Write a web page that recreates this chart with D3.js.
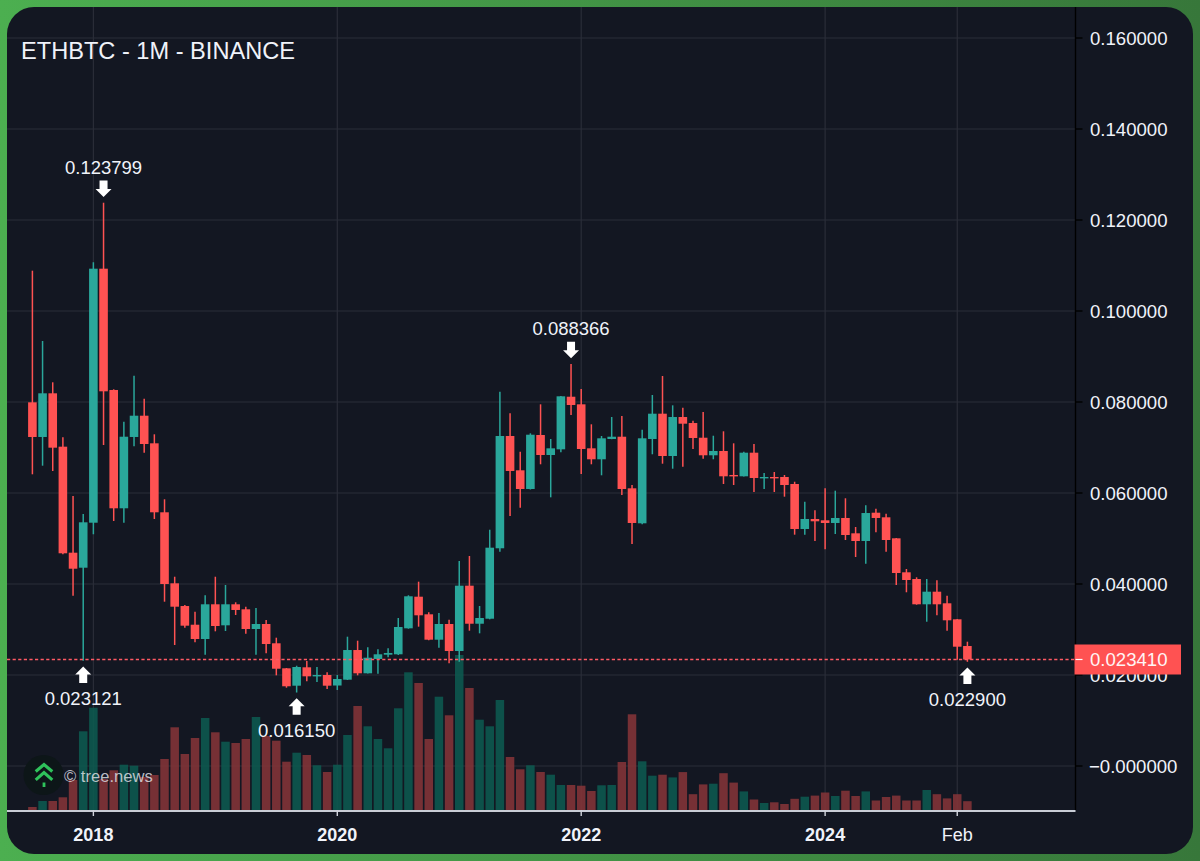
<!DOCTYPE html>
<html><head><meta charset="utf-8">
<style>html,body{margin:0;padding:0;background:#4a9a4e}svg{display:block}text{font-family:"Liberation Sans",Arial,sans-serif}</style>
<script src="https://cdn.jsdelivr.net/npm/d3@7"></script></head><body><svg id="c" width="1200" height="861"></svg>
<script>
const title="ETHBTC - 1M - BINANCE";
const opens=[.07993,.07231,.08191,.07018,.04688,.04358,.05347,.10930,.08264,.05664,.07231,.07699,.07092,.05576,.04015,.03516,.03105,.02791,.03554,.03092,.03554,.03444,.03011,.03121,.02697,.02147,.01765,.02169,.01971,.02000,.01769,.01897,.02549,.02037,.02352,.02446,.02455,.03026,.03721,.03334,.02776,.03121,.02527,.03963,.03127,.03237,.04785,.07253,.06499,.06088,.07275,.06835,.06960,.08116,.07949,.06982,.06741,.07187,.07237,.06103,.05334,.07187,.07743,.06813,.07670,.07538,.07215,.06829,.06923,.06396,.06367,.06886,.06330,.06352,.06352,.06198,.05209,.05429,.05400,.05341,.05451,.05114,.04945,.05567,.05466,.05004,.04257,.04110,.03554,.03831,.03576,.03224,.02637];
const closes=[.07231,.08191,.06996,.04675,.04336,.05356,.10930,.08235,.05664,.07237,.07699,.07077,.05576,.04000,.03501,.03084,.02791,.03554,.03077,.03554,.03429,.03011,.03121,.02681,.02138,.01752,.02176,.01971,.02000,.01765,.01912,.02549,.02037,.02380,.02455,.02484,.03055,.03730,.03312,.02776,.03121,.02527,.03963,.03127,.03253,.04798,.07253,.06484,.06088,.07281,.06835,.06982,.08125,.07934,.06967,.06741,.07202,.07237,.06088,.05341,.07202,.07743,.06813,.07670,.07523,.07209,.06829,.06923,.06367,.06367,.06886,.06330,.06352,.06330,.06176,.05209,.05429,.05378,.05341,.05451,.05077,.04945,.05560,.05451,.04967,.04242,.04088,.03554,.03831,.03554,.03202,.02622,.02341];
const highs=[.10886,.09341,.08433,.07224,.05934,.05538,.11070,.123799,.08279,.07567,.08578,.08073,.07290,.05862,.04160,.03538,.03391,.03752,.04160,.03978,.03598,.03501,.03473,.03209,.02820,.02154,.02204,.02308,.02176,.02059,.02000,.02842,.02754,.02609,.02565,.02587,.03253,.03752,.04051,.03378,.03363,.03215,.04505,.04615,.03516,.05193,.08226,.07752,.06908,.07312,.07949,.07187,.08132,.088366,.08286,.07510,.07253,.07670,.07692,.06176,.07391,.08154,.08571,.07927,.07875,.07589,.07780,.07259,.07356,.07092,.06908,.07077,.06440,.06462,.06396,.06248,.05809,.05620,.06103,.06051,.05884,.05253,.05730,.05655,.05545,.05011,.04330,.04147,.04110,.04081,.03743,.03231,.02732];
const lows=[.06411,.06600,.06484,.04653,.03743,.023121,.05092,.07055,.05385,.05347,.07026,.06886,.05429,.03611,.02659,.03040,.02719,.02446,.02960,.02967,.03319,.02908,.02446,.02477,.01993,.01721,.016150,.01862,.01846,.01692,.01670,.01890,.01993,.02033,.02029,.02389,.02440,.03018,.03062,.02763,.02600,.02257,.02292,.02974,.02916,.03224,.04710,.05495,.05677,.06077,.06631,.05905,.06895,.07714,.06418,.06631,.06389,.07182,.05956,.04879,.05312,.06851,.06644,.06534,.06578,.06967,.06754,.06741,.06198,.06176,.06360,.06022,.06088,.06022,.05919,.05084,.05084,.04945,.04763,.05099,.04967,.04593,.04446,.05136,.04710,.03978,.03818,.03545,.03171,.03312,.02974,.02336,.022900];
const volumes=[.3,.9,.9,1.27,3.0,7.87,10.23,3.1,3.97,4.53,4.43,3.3,3.5,5.1,8.27,5.6,7.2,9.2,7.77,6.83,6.7,7.1,9.3,7.4,6.93,4.83,5.73,5.5,4.47,3.8,4.53,7.5,10.4,8.37,7.1,6.17,10.17,13.77,12.7,7.1,11.33,9.47,15.5,12.2,9.03,8.37,11.0,5.3,4.07,4.47,3.8,3.53,2.5,2.5,2.43,1.9,2.47,2.5,4.8,9.57,4.87,3.43,3.53,3.26,3.79,1.58,2.56,2.63,3.68,2.74,1.86,1.05,.7,.77,.6,1.12,1.33,1.44,1.75,1.4,1.93,1.4,1.86,.95,1.3,1.44,.95,.95,2.0,1.58,1.16,1.58,.88];
const priceTicks=[.16,.14,.12,.10,.08,.06,.04,.02,0];
const timeTicks=[{i:6,t:"2018",b:true},{i:30,t:"2020",b:true},{i:54,t:"2022",b:true},{i:78,t:"2024",b:true},{i:91,t:"Feb",b:false}];
const lastPrice=.02341;
const marks=[{i:7,v:.123799,dir:"down"},{i:53,v:.088366,dir:"down"},{i:5,v:.023121,dir:"up"},{i:26,v:.016150,dir:"up"},{i:92,v:.022900,dir:"up"}];

const W=1200,H=861,L=7,R=1075.5,T=7,B=810;
const svg=d3.select("#c");
const defs=svg.append("defs");
const g0=defs.append("linearGradient").attr("id","frame").attr("x1",0).attr("y1",0).attr("x2",1).attr("y2",0);
g0.append("stop").attr("offset",0).attr("stop-color","#4CAF50");
g0.append("stop").attr("offset",1).attr("stop-color","#37773A");
svg.append("rect").attr("width",W).attr("height",H).attr("fill","url(#frame)");
svg.append("rect").attr("x",L).attr("y",T).attr("width",1186).attr("height",847).attr("rx",27).attr("fill","#131722");

const x=d3.scaleLinear().domain([0,92]).range([32.4,967.4]);
const y=d3.scaleLinear().domain([0,.16]).range([766,38]);
const yv=d3.scaleLinear().domain([0,16]).range([B,650]);
const bw=8.6;

const grid=svg.append("g").attr("stroke","#2A2E39").attr("stroke-width",1.2);
priceTicks.forEach(p=>grid.append("line").attr("x1",L).attr("x2",R).attr("y1",y(p)).attr("y2",y(p)));
timeTicks.forEach(t=>grid.append("line").attr("x1",x(t.i)).attr("x2",x(t.i)).attr("y1",T).attr("y2",B));

const up=i=>closes[i]>=opens[i];
svg.append("g").selectAll("rect").data(volumes).join("rect")
 .attr("x",(d,i)=>x(i)-4.25).attr("width",8.5).attr("y",d=>yv(d)).attr("height",d=>B-yv(d))
 .attr("fill",(d,i)=>up(i)?"#0D5A50":"#843438").attr("fill-opacity",.88);

// logo & watermark
const logo=svg.append("g");
logo.append("circle").attr("cx",43.5).attr("cy",775).attr("r",20).attr("fill","#0D1618");
const chev=logo.append("g").attr("fill","none").attr("stroke","#2FC25B").attr("stroke-width",3.1);
chev.append("path").attr("d","M35.7 771.5L44 764.5L52.3 771.5");
chev.append("path").attr("d","M35.7 779.8L44 772.5L52.3 779.8");
logo.append("rect").attr("x",42.6).attr("y",782.5).attr("width",2.8).attr("height",4.5).attr("fill","#2FC25B");
logo.append("text").attr("x",64).attr("y",781.5).attr("font-size",16.6).attr("fill","#DADCE0").attr("fill-opacity",.85).text("© tree.news");

const cndl=svg.append("g");
opens.forEach((o,i)=>{
  const col=up(i)?"#2AA79B":"#FF5252";
  cndl.append("line").attr("x1",x(i)).attr("x2",x(i)).attr("y1",y(highs[i])).attr("y2",y(lows[i])).attr("stroke",col).attr("stroke-width",1.5);
  const t=y(Math.max(o,closes[i])),b=y(Math.min(o,closes[i]));
  cndl.append("rect").attr("x",x(i)-bw/2).attr("width",bw).attr("y",t).attr("height",Math.max(b-t,1.4)).attr("fill",col);
});

// last price line
svg.append("line").attr("x1",L).attr("x2",R).attr("y1",y(lastPrice)).attr("y2",y(lastPrice))
 .attr("stroke","#FF5A64").attr("stroke-width",1.5).attr("stroke-dasharray","3.2 2.4");

// extremum markers
const fmt=d3.format(".6f");
marks.forEach(m=>{
  const px=x(m.i),py=y(m.v),s=m.dir==="down"?-1:1;
  const ty=py+s*5.7; // tip
  const d=`M${px} ${ty}L${px+8} ${ty+s*8}L${px+4} ${ty+s*8}L${px+4} ${ty+s*16.6}L${px-4} ${ty+s*16.6}L${px-4} ${ty+s*8}L${px-8} ${ty+s*8}Z`;
  svg.append("path").attr("d",d).attr("fill","#fff");
  svg.append("text").attr("x",px).attr("y",m.dir==="down"?ty-22.8:ty+38.3).attr("text-anchor","middle")
   .attr("font-size",18.5).attr("fill","#F0F3FA").text(fmt(m.v));
});

// price axis
svg.append("line").attr("x1",R).attr("x2",R).attr("y1",T).attr("y2",B).attr("stroke","#000").attr("stroke-width",1.4);
const pa=svg.append("g");
priceTicks.forEach(p=>{
  pa.append("line").attr("x1",R).attr("x2",R+7).attr("y1",y(p)).attr("y2",y(p)).attr("stroke","#000").attr("stroke-width",1.4);
  pa.append("text").attr("x",p===0?1089:1090).attr("y",y(p)+6.7).attr("font-size",18.6).attr("fill","#F0F3FA")
    .text(p===0?"−0.000000":fmt(p));
});
svg.append("rect").attr("x",1074.5).attr("y",644.5).attr("width",106.5).attr("height",30).attr("fill","#FF5252");
svg.append("line").attr("x1",R).attr("x2",R+7).attr("y1",y(lastPrice)).attr("y2",y(lastPrice)).attr("stroke","#fff").attr("stroke-width",1.2);
svg.append("text").attr("x",1090).attr("y",y(lastPrice)+6.7).attr("font-size",18.6).attr("fill","#FFF5F5").text(fmt(lastPrice));

// time axis
svg.append("line").attr("x1",L).attr("x2",R).attr("y1",B+1).attr("y2",B+1).attr("stroke","#C9CDD6").attr("stroke-width",1.9);
timeTicks.forEach(t=>{
  svg.append("line").attr("x1",x(t.i)).attr("x2",x(t.i)).attr("y1",B).attr("y2",B+6).attr("stroke","#D1D4DC").attr("stroke-width",1.4);
  svg.append("text").attr("x",x(t.i)).attr("y",841).attr("text-anchor","middle").attr("font-size",18)
    .attr("font-weight",t.b?"bold":"normal").attr("fill","#F0F3FA").text(t.t);
});

svg.append("text").attr("x",21).attr("y",59.3).attr("font-size",23.6).attr("fill","#F0F3FA").text(title);
</script></body></html>
